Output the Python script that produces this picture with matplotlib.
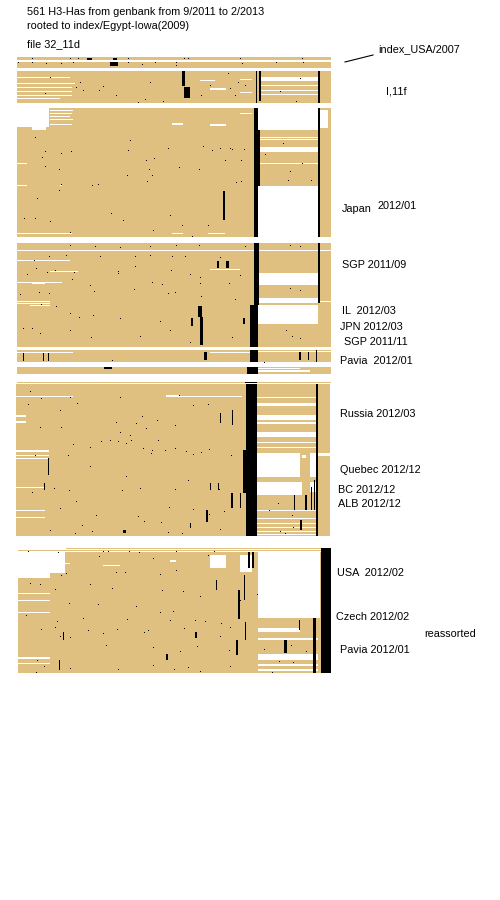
import matplotlib
matplotlib.use("Agg")
import matplotlib.pyplot as plt

# colours
TAN = "#E0C080"

# tan alignment blocks: (x0, x1, y0, y1) in picture pixels
tan_blocks = [
    (17, 331, 57, 68),
    (17, 331, 71, 103),
    (17, 331, 108, 237),
    (17, 331, 243, 347),
    (17, 331, 350, 362),
    (17, 331, 367, 374),
    (17, 331, 381.5, 383),
    (16, 330, 384, 536),
    (66, 330, 548, 549),
    (18, 330, 550, 551),
    (18, 331, 552, 673),
]

# white gaps / stripes inside the blocks
white_rects = [
    # block 0
    (17, 331, 59.5, 61.5),
    # block 1
    (17, 70, 77, 78), (17, 75, 83, 84), (17, 72, 87, 88), (17, 72, 91, 92),
    (17, 72, 95, 96), (17, 60, 98, 99), (259, 318, 77, 81), (259, 318, 85, 86),
    (259, 318, 90, 91), (259, 318, 94, 95), (200, 215, 80, 81), (210, 226, 88, 90),
    (240, 252, 79, 80), (240, 252, 92, 93),
    # block 2
    (17, 49, 108, 127), (32, 46, 127, 130), (50, 73, 110, 111), (50, 72, 113, 114),
    (50, 70, 116, 117), (50, 73, 119, 120), (50, 72, 124, 125), (17, 27, 163, 164),
    (17, 27, 185, 186), (60, 62, 185, 186), (17, 72, 233, 234), (172, 183, 233, 234),
    (208, 225, 233, 234), (172, 183, 123, 125), (210, 226, 124, 126), (240, 252, 113, 114),
    (258, 318, 108, 130), (258, 318, 137, 138), (258, 318, 139, 140), (258, 318, 147, 152),
    (258, 318, 163, 164), (258, 318, 186, 237), (320, 328, 110, 128),
    # block 3
    (17, 331, 249.5, 251), (17, 70, 260, 261), (50, 78, 271, 272), (32, 45, 282, 284),
    (17, 62, 282, 283), (17, 50, 301, 302), (17, 50, 303, 304), (30, 50, 305, 306),
    (210, 240, 269, 270), (258, 318, 273, 285), (258, 318, 298, 303),
    (258, 318, 305, 324), (320, 331, 301, 302), (17, 331, 346.5, 348),
    (17, 73, 352, 353), (210, 250, 352, 353), (258, 331, 351, 352),
    (258, 310, 370, 372), (258, 300, 368, 369),
    # block 4
    (16, 73, 396, 397), (166, 242, 396, 397), (257, 317, 397, 398), (257, 317, 403, 406),
    (257, 317, 415, 420), (257, 317, 422, 424), (257, 317, 432, 437), (257, 317, 442, 443),
    (257, 317, 447, 448), (257, 300, 453, 477), (310, 317, 453, 477), (302, 306, 455, 458),
    (257, 302, 482, 495), (310, 317, 482, 492), (257, 317, 510, 511), (257, 317, 518, 519),
    (257, 317, 523, 524), (257, 317, 527, 528), (257, 317, 531, 532), (257, 317, 534, 535),
    (16, 26, 415, 417), (16, 26, 421, 423), (16, 49, 450, 452), (16, 49, 455, 456),
    (16, 49, 458, 459), (16, 45, 487, 488), (16, 45, 510, 511), (16, 45, 517, 518),
    (166, 180, 395, 396), (318, 330, 453, 456),
    # block 5
    (18, 50, 552, 578), (50, 65, 552, 573), (258, 320, 552, 618), (170, 176, 560, 562),
    (210, 226, 555, 568), (240, 252, 555, 572), (18, 50, 593, 594), (18, 50, 600, 601),
    (18, 50, 612, 613), (18, 50, 657, 659), (18, 50, 663, 664), (258, 300, 628, 632),
    (258, 318, 638, 640), (258, 318, 654, 660), (258, 318, 664, 666), (258, 318, 669, 671),
    (103, 120, 565, 566), (60, 70, 563, 564),
]

# solid black columns and bars
black_rects = [
    # block 0
    (87, 92, 58, 60), (110, 118, 62, 66), (113, 117, 58, 60),
    # block 1
    (255.5, 257, 71, 103), (259, 261, 71, 101), (318, 319.5, 71, 103),
    (182, 185, 71, 86), (184, 190, 87, 98),
    # block 2
    (254, 258, 108, 237), (318, 320, 108, 237), (223, 225, 191, 220), (258, 260, 130, 186),
    # block 3
    (254, 259, 243, 305), (250, 258, 305, 347), (318, 319.5, 243, 303),
    (198, 202, 306, 317), (200, 203, 317, 345), (217, 219, 261, 268), (226, 229, 261, 268),
    (243, 245, 318, 324), (191, 193, 318, 326),
    # block 3 lower strips
    (250, 258, 350, 362), (247, 258, 367, 374), (245, 257, 381.5, 383),
    (204, 207, 352, 360), (23, 24, 353, 361), (43, 44, 353, 361), (48, 49, 353, 361),
    (299, 301, 352, 360), (308, 309, 352, 360), (316, 317, 350, 362), (104, 112, 367, 369),
    # block 4
    (246, 257, 384, 536), (243, 257, 450, 493), (316, 318, 384, 536),
    (232, 233, 410, 425), (220, 221, 413, 423), (210, 211, 483, 490), (218, 219, 483, 490),
    (231, 233, 493, 508), (240, 241, 493, 508), (206, 208, 510, 522), (48, 49, 458, 475),
    (44, 45, 483, 490), (294, 295, 495, 510), (305, 307, 495, 510), (311, 312, 487, 510),
    (314, 315, 480, 510), (300, 302, 520, 530), (190, 191, 523, 528), (123, 126, 530, 533),
    # block 5
    (321, 331, 548, 673), (238, 240, 590, 619), (216, 217, 580, 590), (244, 245, 575, 600),
    (245, 246, 622, 640), (236, 238, 640, 655), (313, 316, 618, 673), (284, 287, 640, 653),
    (299, 300, 620, 630), (195, 197, 632, 638), (166, 168, 654, 660), (59, 60, 660, 670),
    (63, 64, 632, 640), (248, 250, 552, 568), (252, 254, 552, 568),
]

# small black specks: (x, y)
specks = [
    (32, 58), (70, 58), (78, 58), (128, 58), (184, 58), (188, 58), (240, 58), (302, 58),
    (18, 62), (32, 62), (46, 63), (61, 63), (73, 62), (128, 62), (155, 62), (176, 62),
    (242, 63), (276, 62), (303, 62), (142, 64), (176, 65),
    (50, 77), (80, 82), (76, 87), (103, 86), (99, 90), (150, 82), (45, 93), (83, 90),
    (116, 95), (138, 102), (145, 99), (163, 101), (201, 95), (230, 88), (238, 82),
    (235, 95), (245, 85), (210, 85), (300, 78), (280, 91), (296, 101), (228, 73),
    (35, 137), (45, 151), (61, 153), (42, 157), (45, 166), (59, 169), (71, 151), (61, 184),
    (92, 185), (98, 184), (130, 140), (128, 150), (146, 160), (154, 158), (127, 175),
    (147, 181), (152, 175), (168, 148), (179, 167), (199, 169), (203, 146), (212, 150),
    (241, 160), (236, 182), (241, 181), (24, 218), (35, 218), (50, 221), (70, 232),
    (111, 213), (123, 220), (153, 230), (170, 215), (182, 225), (192, 236), (208, 225),
    (265, 154), (283, 143), (302, 163), (290, 171), (288, 180), (311, 180), (244, 149),
    (232, 149), (225, 160), (220, 148), (230, 148), (149, 169), (37, 198), (59, 190),
    (70, 245), (95, 246), (120, 247), (150, 246), (176, 245), (199, 245), (245, 246),
    (290, 245), (300, 246), (34, 260), (49, 256), (66, 255), (100, 256), (135, 256),
    (150, 255), (172, 256), (185, 256), (220, 257), (36, 268), (55, 270), (47, 272),
    (74, 272), (118, 271), (135, 266), (171, 270), (190, 274), (200, 277), (240, 275),
    (27, 274), (72, 279), (90, 285), (118, 273), (152, 282), (162, 284), (200, 283),
    (229, 283), (290, 288), (300, 290), (20, 294), (39, 292), (49, 293), (94, 291),
    (134, 289), (168, 293), (175, 292), (201, 296), (235, 299), (41, 304), (56, 306),
    (70, 313), (79, 317), (93, 315), (120, 318), (160, 321), (23, 328), (32, 328),
    (40, 333), (70, 330), (91, 337), (140, 336), (170, 330), (190, 342), (232, 337),
    (286, 330), (292, 336), (300, 338), (264, 362), (112, 360),
    (30, 391), (70, 397), (41, 398), (77, 403), (60, 410), (120, 397), (179, 395),
    (28, 404), (193, 405), (208, 404), (142, 416), (136, 423), (116, 422), (157, 420),
    (175, 425), (146, 428), (61, 427), (40, 427), (120, 432), (130, 435), (126, 443),
    (158, 440), (73, 444), (90, 447), (101, 441), (110, 440), (118, 441), (131, 440),
    (143, 448), (152, 450), (165, 450), (175, 448), (186, 451), (201, 452), (209, 449),
    (35, 455), (68, 455), (151, 453), (193, 454), (231, 455), (90, 466), (126, 476),
    (188, 480), (54, 488), (69, 490), (122, 490), (140, 488), (175, 489), (219, 489),
    (32, 492), (76, 501), (169, 507), (193, 509), (224, 511), (60, 508), (209, 514),
    (96, 515), (138, 516), (144, 521), (161, 522), (82, 525), (50, 530), (75, 533),
    (92, 531), (168, 532), (182, 533), (220, 529), (269, 510), (278, 503), (293, 527),
    (280, 531), (285, 533), (292, 515),
    (28, 551), (58, 552), (103, 551), (108, 551), (129, 551), (139, 552), (176, 551),
    (214, 551), (99, 556), (153, 558), (208, 555), (176, 570), (160, 574), (125, 572),
    (116, 572), (66, 573), (61, 575), (30, 583), (40, 584), (90, 584), (55, 589),
    (112, 588), (183, 591), (162, 590), (200, 596), (240, 600), (257, 594), (69, 603),
    (98, 604), (136, 606), (160, 612), (173, 611), (26, 615), (83, 618), (127, 619),
    (170, 620), (195, 620), (205, 621), (221, 623), (57, 621), (55, 627), (41, 629),
    (88, 630), (117, 629), (144, 632), (148, 630), (184, 628), (230, 627), (220, 636),
    (60, 636), (70, 637), (103, 633), (106, 645), (153, 647), (180, 651), (197, 646),
    (229, 650), (264, 649), (291, 645), (306, 651), (37, 660), (70, 668), (118, 669),
    (153, 665), (174, 669), (188, 667), (200, 671), (230, 666), (279, 661), (293, 662),
    (272, 672), (36, 672), (44, 666),
]

# text on the picture
title_lines = ["561 H3-Has from genbank from 9/2011 to 2/2013",
               "rooted to index/Egypt-Iowa(2009)"]
file_label = "file 32_11d"
index_label = "index_USA/2007"
labels = [
    ("I,11f", 386, 91),
    ("Japan", 342, 209),
    ("2012/01", 378, 206),
    ("SGP 2011/09", 342, 265),
    ("IL  2012/03", 342, 311),
    ("JPN 2012/03", 340, 327),
    ("SGP 2011/11", 344, 342),
    ("Pavia  2012/01", 340, 361),
    ("Russia 2012/03", 340, 414),
    ("Quebec 2012/12", 340, 470),
    ("BC 2012/12", 338, 490),
    ("ALB 2012/12", 338, 504),
    ("USA  2012/02", 337, 573),
    ("Czech 2012/02", 336, 617),
    ("reassorted", 424, 634),
    ("Pavia 2012/01", 340, 650),
]

plt.rcParams['font.family'] = ['Liberation Sans', 'DejaVu Sans']

fig = plt.figure(figsize=(5, 9), dpi=100)
ax = fig.add_axes([0, 0, 1, 1])
ax.set_xlim(0, 500)
ax.set_ylim(900, 0)
ax.axis('off')


def draw_rects(rects, color):
    x0 = [r[0] for r in rects]
    w = [r[1] - r[0] for r in rects]
    y0 = [r[2] for r in rects]
    h = [r[3] - r[2] for r in rects]
    ax.bar(x0, h, width=w, bottom=y0, align='edge', color=color,
           linewidth=0, antialiased=False)


draw_rects(tan_blocks, TAN)
draw_rects(white_rects, 'white')
draw_rects(black_rects, 'black')
draw_rects([(x, x + 1.3, y, y + 1.3) for x, y in specks], 'black')

fs = 7.8
ax.text(27, 12, title_lines[0], fontsize=fs, va='center', ha='left')
ax.text(27, 26, title_lines[1], fontsize=fs, va='center', ha='left')
ax.text(27, 44, file_label, fontsize=fs, va='center', ha='left')
ax.text(378, 49, index_label, fontsize=fs, va='center', ha='left')
ax.plot([345, 373], [62, 55], color='black', linewidth=0.8)

for txt, x, y in labels:
    ax.text(x, y, txt, fontsize=fs, va='center', ha='left')

fig.savefig('out.png', dpi=100)
